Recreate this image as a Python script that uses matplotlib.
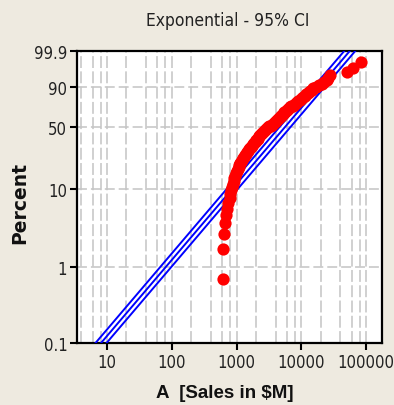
import numpy as np
import matplotlib
matplotlib.use("Agg")
import matplotlib.pyplot as plt
from matplotlib.ticker import FixedLocator, FixedFormatter, NullLocator

BG = "#EEEAE0"
GRID = "#C4C4C4"
NARROW = ["DejaVu Sans"]

# sorted sample values (rank 1 .. 100)
sales = [
    609, 612, 631, 655, 690, 715, 750, 785, 805, 830,
    858, 880, 905, 930, 955, 985, 1012, 1045, 1080, 1110,
    1148, 1180, 1218, 1255, 1300, 1345, 1390, 1440, 1490, 1545,
    1595, 1650, 1720, 1780, 1840, 1905, 1970, 2035, 2110, 2180,
    2255, 2330, 2410, 2495, 2580, 2665, 2770, 2880, 2990, 3110,
    3230, 3360, 3490, 3630, 3770, 3920, 4070, 4230, 4400, 4550,
    4680, 4810, 4940, 5080, 5220, 5360, 5500, 5740, 5980, 6230,
    6490, 6760, 7050, 7340, 7650, 7970, 8300, 8650, 9010, 9390,
    9790, 10290, 10800, 11350, 11910, 12510, 13130, 13790, 14480, 15300,
    17000, 18900, 21200, 22800, 24500, 26300, 28200, 51000, 63100, 83800,
]

THETA = 8100

y_ticks = [0.1, 1, 10, 50, 90, 99.9]
y_labels = ["0.1", "1", "10", "50", "90", "99.9"]
x_ticks = [10, 100, 1000, 10000, 100000]
x_labels = ["10", "100", "1000", "10000", "100000"]


def fwd(p):
    p = np.clip(np.asarray(p, dtype=float), 1e-9, 100 - 1e-9)
    return np.log10(-np.log1p(-p / 100.0))


def inv(v):
    return 100.0 * (-np.expm1(-10.0 ** np.asarray(v, dtype=float)))


n = len(sales)
rank = np.arange(1, n + 1)
pct = (rank - 0.3) / (n + 0.4) * 100  # median ranks

fig = plt.figure(figsize=(3.94, 4.06), dpi=100, facecolor=BG)
ax = fig.add_axes([0.1954, 0.1527, 0.7741, 0.7192])
ax.set_facecolor("white")
ax.set_xscale("log")
ax.set_yscale("function", functions=(fwd, inv))
ax.set_xlim(3.45, 176000)
ax.set_ylim(0.1, 99.9)

# grid
for k in range(0, 6):
    for m in (1, 2, 4, 6, 8):
        v = m * 10 ** k
        if 3.45 < v < 176000:
            ax.axvline(v, color=GRID, lw=1.1, ls=(0, (7.8, 2.2)), zorder=1)
for v in (1, 10, 50, 90):
    ax.axhline(v, color=GRID, lw=1.1, ls=(0, (6.5, 2.6)), zorder=1)

# fit line and 95% CI
lv = np.linspace(fwd(0.1), fwd(99.9), 60)
pl = inv(lv)
z = 1.96 / np.sqrt(n)
for th in (THETA * np.exp(-z), THETA, THETA * np.exp(z)):
    ax.plot(-th * np.log1p(-pl / 100), pl, color="#0000FF", lw=1.4, zorder=3)

ax.plot(sales, pct, "o", color="#FF0000", ms=8.8, mec="none", zorder=4,
        clip_on=False)

ax.yaxis.set_major_locator(FixedLocator(y_ticks))
ax.yaxis.set_major_formatter(FixedFormatter(y_labels))
ax.yaxis.set_minor_locator(NullLocator())
ax.xaxis.set_major_locator(FixedLocator(x_ticks))
ax.xaxis.set_major_formatter(FixedFormatter(x_labels))
ax.xaxis.set_minor_locator(NullLocator())
ax.tick_params(length=5, width=1.5, color="black", pad=2, labelcolor="#222222")
for lab in ax.get_xticklabels() + ax.get_yticklabels():
    lab.set_family(NARROW)
    lab.set_stretch("condensed")
    lab.set_fontsize(12)

for s in ax.spines.values():
    s.set_linewidth(1.6)
    s.set_color("black")

fig.text(228 / 394, 1 - 21 / 406, "Exponential - 95% CI", ha="center",
         va="center", fontsize=12.5, family=NARROW, stretch="condensed",
         color="#222222")
fig.text(20 / 394, 1 - 203 / 406, "Percent", rotation=90, ha="center",
         va="center", fontsize=13.5, fontweight="bold", family="DejaVu Sans",
         color="#111111")
fig.text(225 / 394, 1 - 394 / 406, "A  [Sales in $M]", ha="center",
         va="center", fontsize=13.5, fontweight="bold",
         family=["Liberation Sans", "DejaVu Sans"], color="#111111")

fig.savefig("out.png", dpi=100, facecolor=BG)
